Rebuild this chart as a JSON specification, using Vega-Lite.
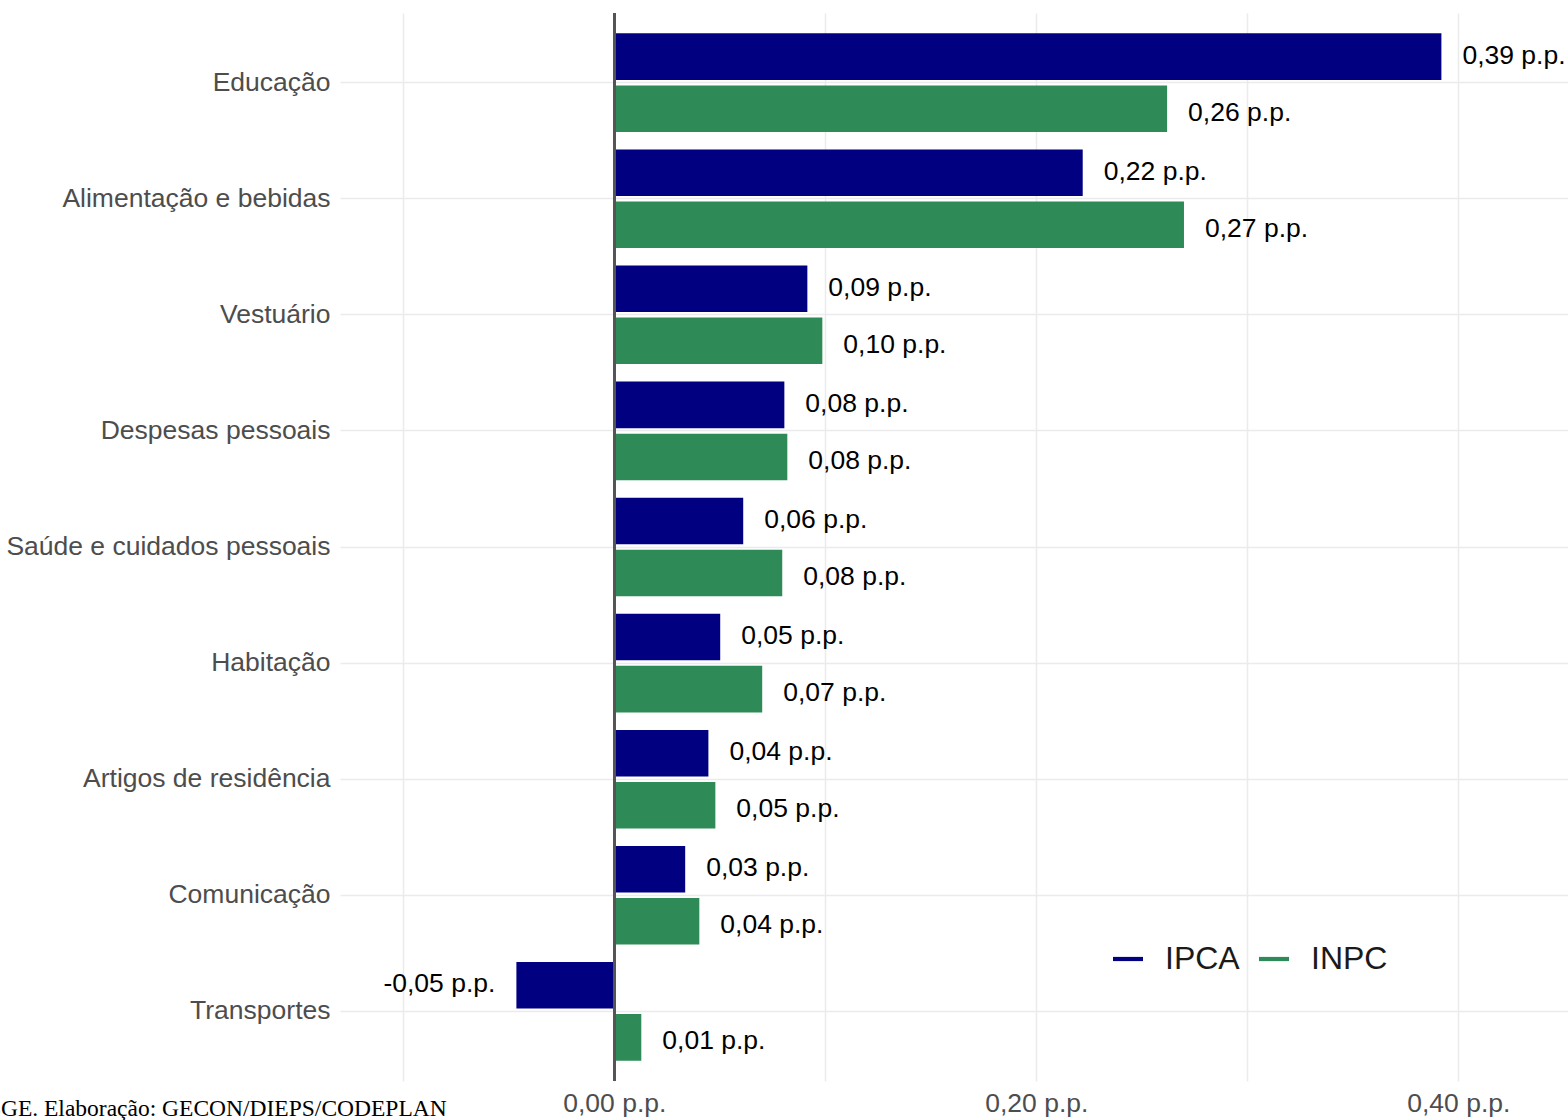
{
  "$schema": "https://vega.github.io/schema/vega-lite/v6.json",
  "width": 1228,
  "height": 1068,
  "autosize": {"type": "none"},
  "padding": {"left": 340, "top": 13, "right": 0, "bottom": 39},
  "background": "white",
  "config": {"view": {"stroke": null}, "font": "Liberation Sans"},
  "data": {
    "values": [
      {"cat": "Educação", "serie": "IPCA", "value": 0.392, "label": "0,39 p.p."},
      {"cat": "Educação", "serie": "INPC", "value": 0.262, "label": "0,26 p.p."},
      {"cat": "Alimentação e bebidas", "serie": "IPCA", "value": 0.222, "label": "0,22 p.p."},
      {"cat": "Alimentação e bebidas", "serie": "INPC", "value": 0.270, "label": "0,27 p.p."},
      {"cat": "Vestuário", "serie": "IPCA", "value": 0.0915, "label": "0,09 p.p."},
      {"cat": "Vestuário", "serie": "INPC", "value": 0.0986, "label": "0,10 p.p."},
      {"cat": "Despesas pessoais", "serie": "IPCA", "value": 0.0806, "label": "0,08 p.p."},
      {"cat": "Despesas pessoais", "serie": "INPC", "value": 0.082, "label": "0,08 p.p."},
      {"cat": "Saúde e cuidados pessoais", "serie": "IPCA", "value": 0.0611, "label": "0,06 p.p."},
      {"cat": "Saúde e cuidados pessoais", "serie": "INPC", "value": 0.0796, "label": "0,08 p.p."},
      {"cat": "Habitação", "serie": "IPCA", "value": 0.0502, "label": "0,05 p.p."},
      {"cat": "Habitação", "serie": "INPC", "value": 0.0701, "label": "0,07 p.p."},
      {"cat": "Artigos de residência", "serie": "IPCA", "value": 0.0446, "label": "0,04 p.p."},
      {"cat": "Artigos de residência", "serie": "INPC", "value": 0.0479, "label": "0,05 p.p."},
      {"cat": "Comunicação", "serie": "IPCA", "value": 0.0336, "label": "0,03 p.p."},
      {"cat": "Comunicação", "serie": "INPC", "value": 0.0403, "label": "0,04 p.p."},
      {"cat": "Transportes", "serie": "IPCA", "value": -0.0464, "label": "-0,05 p.p."},
      {"cat": "Transportes", "serie": "INPC", "value": 0.0128, "label": "0,01 p.p."}
    ]
  },
  "layer": [
    {
      "mark": {"type": "bar"},
      "encoding": {
        "y": {
          "field": "cat", "type": "nominal",
          "sort": ["Educação", "Alimentação e bebidas", "Vestuário", "Despesas pessoais", "Saúde e cuidados pessoais", "Habitação", "Artigos de residência", "Comunicação", "Transportes"],
          "scale": {"paddingInner": 0, "paddingOuter": 0.1},
          "axis": {
            "title": null, "bandPosition": 0.5, "ticks": false, "domain": false, "grid": true,
            "gridColor": "#ebebeb", "gridWidth": 1.5, "labelLimit": 0,
            "labelFontSize": 26.5, "labelColor": "#4d4d4d", "labelPadding": 10
          }
        },
        "yOffset": {
          "field": "serie", "type": "nominal", "sort": ["IPCA", "INPC"],
          "scale": {"paddingInner": 0.106, "paddingOuter": 0.168}
        },
        "x": {
          "field": "value", "type": "quantitative",
          "scale": {"domain": [-0.13, 0.452], "nice": false, "zero": false},
          "axis": {
            "title": "Fonte: IBGE. Elaboração: GECON/DIEPS/CODEPLAN",
            "titleFont": "Liberation Serif", "titleFontSize": 23.5, "titleFontWeight": "normal",
            "titleColor": "black", "titleX": -429, "titleY": 34, "titleAlign": "left",
            "titleAnchor": null, "titleBaseline": "alphabetic",
            "values": [-0.1, 0, 0.1, 0.2, 0.3, 0.4],
            "labelExpr": "indexof([0, 0.2, 0.4], datum.value) >= 0 ? replace(format(datum.value, '.2f'), '.', ',') + ' p.p.' : ''",
            "labelOverlap": false,
            "ticks": false, "domain": false, "grid": true,
            "gridColor": "#ebebeb", "gridWidth": 1.5,
            "labelFontSize": 26.5, "labelColor": "#4d4d4d", "labelPadding": 9
          }
        },
        "color": {
          "field": "serie", "type": "nominal",
          "scale": {"domain": ["IPCA", "INPC"], "range": ["#000080", "#2E8B57"]},
          "legend": {
            "title": null, "orient": "none", "legendX": 772, "legendY": 930,
            "direction": "horizontal",
            "symbolType": "M-1,-0.14H1V0.14H-1Z", "symbolSize": 900,
            "labelFontSize": 32, "labelColor": "#1a1a1a", "labelOffset": 21, "columnPadding": 18
          }
        }
      }
    },
    {
      "mark": {"type": "rule", "color": "#555555", "strokeWidth": 2},
      "encoding": {"x": {"datum": 0, "type": "quantitative"}}
    },
    {
      "transform": [{"filter": "datum.value >= 0 && datum.serie == 'IPCA'"}],
      "mark": {"type": "text", "align": "left", "baseline": "middle", "dx": 21, "dy": -1, "fontSize": 26.5, "color": "black"},
      "encoding": {
        "y": {"field": "cat", "type": "nominal", "sort": ["Educação", "Alimentação e bebidas", "Vestuário", "Despesas pessoais", "Saúde e cuidados pessoais", "Habitação", "Artigos de residência", "Comunicação", "Transportes"]},
        "yOffset": {"field": "serie", "type": "nominal", "sort": ["IPCA", "INPC"]},
        "x": {"field": "value", "type": "quantitative"},
        "text": {"field": "label"}
      }
    },
    {
      "transform": [{"filter": "datum.value >= 0 && datum.serie == 'INPC'"}],
      "mark": {"type": "text", "align": "left", "baseline": "middle", "dx": 21, "dy": 4, "fontSize": 26.5, "color": "black"},
      "encoding": {
        "y": {"field": "cat", "type": "nominal", "sort": ["Educação", "Alimentação e bebidas", "Vestuário", "Despesas pessoais", "Saúde e cuidados pessoais", "Habitação", "Artigos de residência", "Comunicação", "Transportes"]},
        "yOffset": {"field": "serie", "type": "nominal", "sort": ["IPCA", "INPC"]},
        "x": {"field": "value", "type": "quantitative"},
        "text": {"field": "label"}
      }
    },
    {
      "transform": [{"filter": "datum.value < 0"}],
      "mark": {"type": "text", "align": "right", "baseline": "middle", "dx": -21, "dy": -1, "fontSize": 26.5, "color": "black"},
      "encoding": {
        "y": {"field": "cat", "type": "nominal", "sort": ["Educação", "Alimentação e bebidas", "Vestuário", "Despesas pessoais", "Saúde e cuidados pessoais", "Habitação", "Artigos de residência", "Comunicação", "Transportes"]},
        "yOffset": {"field": "serie", "type": "nominal", "sort": ["IPCA", "INPC"]},
        "x": {"field": "value", "type": "quantitative"},
        "text": {"field": "label"}
      }
    }
  ]
}
